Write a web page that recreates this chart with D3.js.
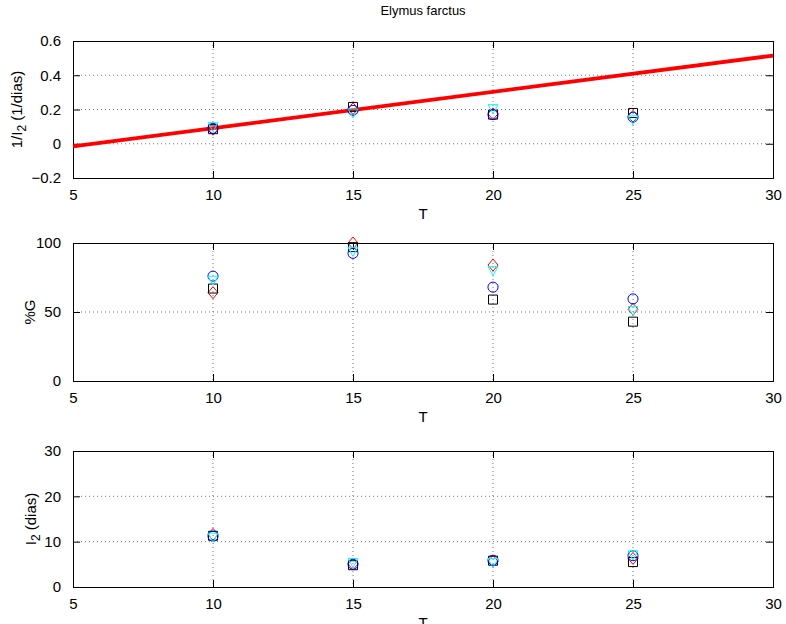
<!DOCTYPE html>
<html><head><meta charset="utf-8">
<script src="https://cdn.jsdelivr.net/npm/d3@7"></script>
<style>body{margin:0;background:#fff}svg{display:block}text{font-family:"Liberation Sans",Arial,sans-serif}</style>
</head><body>
<script>
const temps = [10, 15, 20, 25];
const xTicks = [5, 10, 15, 20, 25, 30];
// series: black squares, blue circles, red diamonds, cyan triangles
const invI2Square   = [0.085, 0.215, 0.170, 0.180];
const invI2Circle   = [0.090, 0.195, 0.170, 0.155];
const invI2Diamond  = [0.085, 0.205, 0.175, 0.160];
const invI2Triangle = [0.100, 0.180, 0.205, 0.140];
const pctGSquare   = [67, 97, 59, 43];
const pctGCircle   = [76, 92.5, 68, 59.5];
const pctGDiamond  = [64, 100, 84, 52];
const pctGTriangle = [73, 94, 80, 51];
const i2Square   = [11.3, 4.8, 5.8, 5.5];
const i2Circle   = [11.2, 5.0, 5.9, 6.9];
const i2Diamond  = [11.6, 5.1, 5.7, 6.3];
const i2Triangle = [11.0, 5.4, 5.4, 7.1];
const fitT = [5, 30];
const fitY = [-0.015, 0.515];
const ticks1 = [-0.2, 0, 0.2, 0.4, 0.6];
const ticks2 = [0, 50, 100];
const ticks3 = [0, 10, 20, 30];

const W = 786, H = 624;
const svg = d3.select("body").append("svg").attr("width", W).attr("height", H);
const L = 73, R = 773;
const x = d3.scaleLinear().domain([5, 30]).range([L, R]);

svg.append("text").attr("x", 423).attr("y", 15).attr("text-anchor", "middle")
  .attr("font-size", 13).text("Elymus farctus");

function panel(top, bottom, domain, yt, fmt, series, ylabelFn, fit) {
  const y = d3.scaleLinear().domain(domain).range([bottom, top]);
  const g = svg.append("g");
  g.selectAll(".gx").data(xTicks.slice(1, -1)).join("line")
    .attr("x1", d => x(d)).attr("x2", d => x(d)).attr("y1", top).attr("y2", bottom)
    .attr("stroke", "#555").attr("stroke-width", 0.8).attr("stroke-dasharray", "1,3");
  g.selectAll(".gy").data(yt.filter(d => d !== domain[0] && d !== domain[1])).join("line")
    .attr("y1", d => y(d)).attr("y2", d => y(d)).attr("x1", L).attr("x2", R)
    .attr("stroke", "#555").attr("stroke-width", 0.8).attr("stroke-dasharray", "1,3");
  const ax = g.append("g").attr("transform", `translate(0,${bottom})`)
    .call(d3.axisBottom(x).tickValues(xTicks).tickSize(-7).tickPadding(11).tickFormat(d3.format("d")));
  const axT = g.append("g").attr("transform", `translate(0,${top})`)
    .call(d3.axisTop(x).tickValues(xTicks).tickSize(-7).tickFormat(""));
  const ay = g.append("g").attr("transform", `translate(${L},0)`)
    .call(d3.axisLeft(y).tickValues(yt).tickSize(-7).tickPadding(12).tickFormat(fmt));
  const ayR = g.append("g").attr("transform", `translate(${R},0)`)
    .call(d3.axisRight(y).tickValues(yt).tickSize(-7).tickFormat(""));
  [ax, axT, ay, ayR].forEach(a => {
    a.select(".domain").attr("stroke", "#000").attr("stroke-width", 1);
    a.selectAll(".tick line").attr("stroke", "#000");
    a.selectAll("text").attr("font-size", 15).attr("fill", "#000").attr("font-family", "Liberation Sans, Arial, sans-serif");
  });
  g.append("text").attr("x", 423).attr("y", bottom + 41).attr("text-anchor", "middle")
    .attr("font-size", 15).text("T");
  ylabelFn(g, (top + bottom) / 2);
  if (fit) {
    g.append("path").datum(fit.t.map((t, i) => [t, fit.v[i]]))
      .attr("d", d3.line().x(d => x(d[0])).y(d => y(d[1])))
      .attr("stroke", "#ff0000").attr("stroke-width", 3.8).attr("fill", "none");
  }
  series.forEach(s => {
    const pts = temps.map((t, i) => [x(t), y(s.v[i])]);
    g.selectAll(null).data(pts).join("path")
      .attr("transform", d => `translate(${d[0]},${d[1]})`)
      .attr("d", () => {
        if (s.type === "square") return "M-4.5,-4.5H4.5V4.5H-4.5Z";
        if (s.type === "circle") return d3.symbol(d3.symbolCircle, 80)();
        if (s.type === "diamond") return "M0,-6L5,0L0,6L-5,0Z";
        return "M-5,-4L5,-4L0,5Z";
      })
      .attr("fill", "none").attr("stroke", s.color).attr("stroke-width", 1);
  });
}

function mkSeries(sq, ci, di, tr) {
  return [
    {type: "diamond", color: "#ff0000", v: di},
    {type: "square", color: "#000000", v: sq},
    {type: "circle", color: "#0000ff", v: ci},
    {type: "triangle", color: "#00ffff", v: tr}
  ];
}

const fmt1 = d => d === 0 ? "0" : d3.format(".1f")(d);
panel(41, 178, [-0.2, 0.6], ticks1, fmt1, mkSeries(invI2Square, invI2Circle, invI2Diamond, invI2Triangle), (g, cy) => {
  const t = g.append("text").attr("transform", `translate(22,${cy}) rotate(-90)`).attr("text-anchor", "middle").attr("font-size", 15);
  t.append("tspan").text("1/I");
  t.append("tspan").attr("font-size", 12).attr("dy", 4).text("2");
  t.append("tspan").attr("dy", -4).text(" (1/dias)");
}, {t: fitT, v: fitY});
panel(243, 381, [0, 100], ticks2, d3.format("d"), mkSeries(pctGSquare, pctGCircle, pctGDiamond, pctGTriangle), (g, cy) => {
  g.append("text").attr("transform", `translate(35,${cy}) rotate(-90)`).attr("text-anchor", "middle").attr("font-size", 15).text("%G");
});
panel(451, 587, [0, 30], ticks3, d3.format("d"), mkSeries(i2Square, i2Circle, i2Diamond, i2Triangle), (g, cy) => {
  const t = g.append("text").attr("transform", `translate(36,${cy}) rotate(-90)`).attr("text-anchor", "middle").attr("font-size", 15);
  t.append("tspan").text("I");
  t.append("tspan").attr("font-size", 12).attr("dy", 4).text("2");
  t.append("tspan").attr("dy", -4).text(" (dias)");
});
</script>
</body></html>
